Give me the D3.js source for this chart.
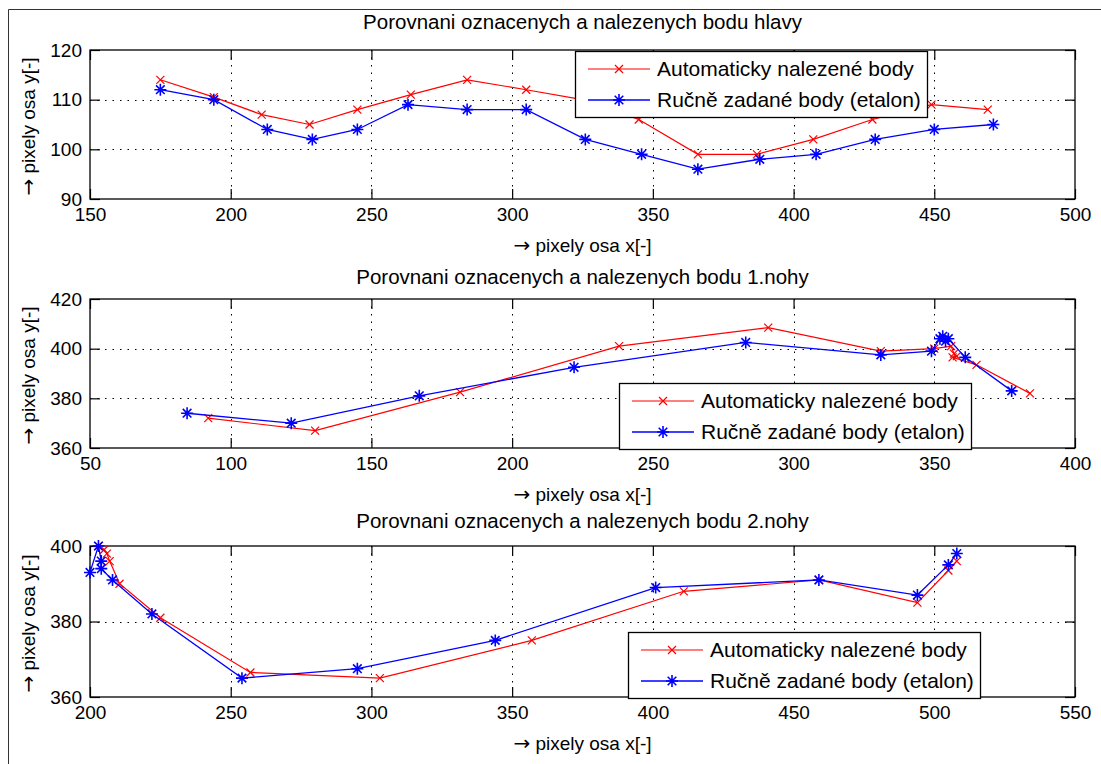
<!DOCTYPE html>
<html>
<head>
<meta charset="utf-8">
<script src="https://cdn.jsdelivr.net/npm/d3@7"></script>
<style>
  html, body { margin: 0; padding: 0; background: #fff; }
  svg { display: block; font-family: "Liberation Sans", Arial, sans-serif; }
</style>
</head>
<body>
<svg id="chart" width="1101" height="764"></svg>
<script>
// ---------- data ----------
const legendLabels = ["Automaticky nalezené body", "Ručně zadané body (etalon)"];
const titles = [
  "Porovnani oznacenych a nalezenych bodu hlavy",
  "Porovnani oznacenych a nalezenych bodu 1.nohy",
  "Porovnani oznacenych a nalezenych bodu 2.nohy"
];
const arrow = "→";
const xLabel = " pixely osa x[-]";
const yLabel = " pixely osa y[-]";

// head
const headXTicks = [150, 200, 250, 300, 350, 400, 450, 500];
const headYTicks = [90, 100, 110, 120];
const headAuto = [[175,114],[194,110.5],[211,107],[228,105],[245,108],[264,111],[284,114],[305,112],[325,110],[345,106],[366,99],[387,99],[407,102],[428,106],[449,109],[469,108]];
const headManual = [[175,112],[194,110],[213,104],[229,102],[245,104],[263,109],[284,108],[305,108],[326,102],[346,99],[366,96],[388,98],[408,99],[429,102],[450,104],[471,105]];

// leg 1
const leg1XTicks = [50, 100, 150, 200, 250, 300, 350, 400];
const leg1YTicks = [360, 380, 400, 420];
const leg1Auto = [[92,372],[130,367],[181.5,382.5],[238,401],[291,408.5],[331,399],[350,400],[356,401],[357,398],[358,397],[356.5,396.5],[365,393.5],[384,382]];
const leg1Manual = [[84.5,374],[121.5,370],[167,381],[222,392.5],[283,402.5],[331,397.5],[349,399],[352,404],[353,405],[354,403],[355,404],[361,396.5],[377.5,383]];

// leg 2
const leg2XTicks = [200, 250, 300, 350, 400, 450, 500, 550];
const leg2YTicks = [360, 380, 400];
const leg2Auto = [[203,400],[205,399],[206,398],[207,396],[210.5,390],[225,381],[257,366.5],[303,365],[357,375],[411,388],[459,391],[494,385],[505,393.5],[508,396]];
const leg2Manual = [[200,393],[203,400],[204,396],[204,394],[208,391],[222,382],[254,365],[295,367.5],[344,375],[401,389],[459,391],[494,387],[505,395],[508,398]];

// ---------- layout ----------
const plotLeft = 90, plotRight = 1075;
const panels = [
  { title: titles[0], titleY: 22, top: 50, bottom: 199, xTicks: headXTicks, yTicks: headYTicks,
    auto: headAuto, manual: headManual, legendX: 575, legendY: 51 },
  { title: titles[1], titleY: 277, top: 299, bottom: 448, xTicks: leg1XTicks, yTicks: leg1YTicks,
    auto: leg1Auto, manual: leg1Manual, legendX: 619, legendY: 383 },
  { title: titles[2], titleY: 521, top: 546, bottom: 697, xTicks: leg2XTicks, yTicks: leg2YTicks,
    auto: leg2Auto, manual: leg2Manual, legendX: 628, legendY: 632 }
];

const RED = "#ff0000", BLUE = "#0000ff";
const svg = d3.select("#chart");

// outer frame
svg.append("line").attr("x1", 8.5).attr("x2", 1101).attr("y1", 9.5).attr("y2", 9.5)
  .attr("stroke", "#333").attr("stroke-width", 1);
svg.append("line").attr("x1", 8.5).attr("x2", 8.5).attr("y1", 9.5).attr("y2", 764)
  .attr("stroke", "#333").attr("stroke-width", 1);

function xMarker(g, x, y, color) {
  const s = 4;
  g.append("path")
    .attr("d", `M${x-s},${y-s}L${x+s},${y+s}M${x-s},${y+s}L${x+s},${y-s}`)
    .attr("stroke", color).attr("stroke-width", 1.2).attr("fill", "none");
}
function starMarker(g, x, y, color) {
  const s = 6, d = 4.3;
  g.append("path")
    .attr("d", `M${x-s},${y}L${x+s},${y}M${x},${y-s}L${x},${y+s}M${x-d},${y-d}L${x+d},${y+d}M${x-d},${y+d}L${x+d},${y-d}`)
    .attr("stroke", color).attr("stroke-width", 1.6).attr("fill", "none");
}
function arrowLabel(t, rest) {
  t.append("tspan").attr("font-family", "'DejaVu Sans', sans-serif").attr("font-size", 20).text(arrow);
  t.append("tspan").text(rest);
}

panels.forEach(p => {
  const g = svg.append("g");
  const x = d3.scaleLinear().domain(d3.extent(p.xTicks)).range([plotLeft, plotRight]);
  const y = d3.scaleLinear().domain(d3.extent(p.yTicks)).range([p.bottom, p.top]);
  const w = plotRight - plotLeft, h = p.bottom - p.top;

  g.append("rect").attr("x", plotLeft).attr("y", p.top).attr("width", w).attr("height", h).attr("fill", "#fff");

  // grid
  const grid = g.append("g").attr("stroke", "#000").attr("stroke-width", 1).attr("stroke-dasharray", "1.5,6");
  p.xTicks.slice(1, -1).forEach(t => {
    grid.append("line").attr("x1", Math.round(x(t)) + 0.5).attr("x2", Math.round(x(t)) + 0.5)
      .attr("y1", p.top).attr("y2", p.bottom);
  });
  p.yTicks.slice(1, -1).forEach(t => {
    grid.append("line").attr("y1", Math.round(y(t)) + 0.5).attr("y2", Math.round(y(t)) + 0.5)
      .attr("x1", plotLeft).attr("x2", plotRight);
  });

  // axes (ticks inward on all four sides)
  const tl = 10;
  const axB = d3.axisBottom(x).tickValues(p.xTicks).tickSize(-tl).tickPadding(9).tickFormat(d3.format("d"));
  const axT = d3.axisTop(x).tickValues(p.xTicks).tickSize(-tl).tickFormat("");
  const axL = d3.axisLeft(y).tickValues(p.yTicks).tickSize(-tl).tickPadding(8).tickFormat(d3.format("d"));
  const axR = d3.axisRight(y).tickValues(p.yTicks).tickSize(-tl).tickFormat("");
  [[axB, `translate(0,${p.bottom})`], [axT, `translate(0,${p.top})`],
   [axL, `translate(${plotLeft},0)`], [axR, `translate(${plotRight},0)`]].forEach(([ax, tr]) => {
    const a = g.append("g").attr("transform", tr).call(ax);
    a.select(".domain").remove();
    a.selectAll("line").attr("stroke", "#000").attr("stroke-width", 1.2);
    a.selectAll("text").attr("font-size", 19).attr("fill", "#000")
      .attr("font-family", "'Liberation Sans', Arial, sans-serif");
  });

  // box
  g.append("rect").attr("x", plotLeft).attr("y", p.top).attr("width", w).attr("height", h)
    .attr("fill", "none").attr("stroke", "#000").attr("stroke-width", 1.3);

  // series
  const line = d3.line().x(d => x(d[0])).y(d => y(d[1]));
  g.append("path").datum(p.auto).attr("d", line).attr("fill", "none").attr("stroke", RED).attr("stroke-width", 1.2);
  p.auto.forEach(d => xMarker(g, x(d[0]), y(d[1]), RED));
  g.append("path").datum(p.manual).attr("d", line).attr("fill", "none").attr("stroke", BLUE).attr("stroke-width", 1.3);
  p.manual.forEach(d => starMarker(g, x(d[0]), y(d[1]), BLUE));

  // title
  g.append("text").attr("x", (plotLeft + plotRight) / 2).attr("y", p.titleY).attr("dy", "0.35em")
    .attr("text-anchor", "middle").attr("font-size", 20.5).attr("fill", "#000").text(p.title);
  // x label
  const xl = g.append("text").attr("x", (plotLeft + plotRight) / 2).attr("y", p.bottom + 46).attr("dy", "0.35em")
    .attr("text-anchor", "middle").attr("font-size", 19).attr("fill", "#000");
  arrowLabel(xl, xLabel);
  // y label
  const yl = g.append("text").attr("transform", `translate(28,${(p.top + p.bottom) / 2 + 2}) rotate(-90)`).attr("dy", "0.35em")
    .attr("text-anchor", "middle").attr("font-size", 19).attr("fill", "#000");
  arrowLabel(yl, yLabel);

  // legend
  const lw = 352, lh = 66;
  const lg = g.append("g").attr("transform", `translate(${p.legendX},${p.legendY})`);
  lg.append("rect").attr("x", 0.5).attr("y", 0.5).attr("width", lw).attr("height", lh)
    .attr("fill", "#fff").attr("stroke", "#000").attr("stroke-width", 1.3);
  [[RED, xMarker, 18, 1.2], [BLUE, starMarker, 49, 1.3]].forEach(([c, mk, yy, sw], i) => {
    lg.append("line").attr("x1", 13).attr("x2", 75).attr("y1", yy).attr("y2", yy)
      .attr("stroke", c).attr("stroke-width", sw);
    mk(lg, 44, yy, c);
    lg.append("text").attr("x", 82).attr("y", yy).attr("dy", "0.35em")
      .attr("font-size", 21).attr("fill", "#000").text(legendLabels[i]);
  });
});
</script>
</body>
</html>
